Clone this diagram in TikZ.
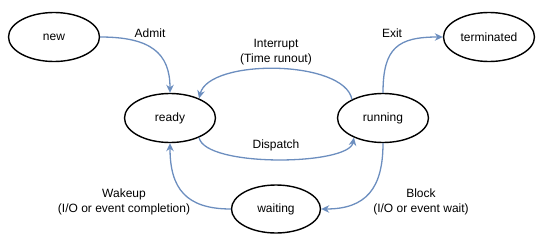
\documentclass[tikz,border=0pt]{standalone}
\usepackage{fontspec}
\setmainfont{Liberation Sans}
\usepackage{xcolor}
\usepackage{tikz}
\usetikzlibrary{shapes.geometric, arrows.meta}

\definecolor{edgeblue}{HTML}{6C8EBF}

\begin{document}
\begin{tikzpicture}[x=1pt, y=1pt,
    state/.style={ellipse, draw, line width=1.4pt, minimum width=91pt, minimum height=49pt, inner sep=0pt, font=\fontsize{12}{14.5}\selectfont},
    lbl/.style={align=center, inner sep=0pt, font=\fontsize{12}{14.5}\selectfont},
    trans/.style={draw=edgeblue, line width=1.3pt, -{Stealth[length=8pt, width=7.5pt, inset=2.5pt]}}]
        \useasboundingbox (0,0) rectangle (552,250);

        % process states
        \node[state] (new) at (54, 213) {new};
        \node[state] (ready) at (170, 132) {ready};
        \node[state] (running) at (383, 132) {running};
        \node[state] (terminated) at (489, 213) {terminated};
        \node[state, minimum width=89pt, minimum height=48pt] (waiting) at (276, 41) {waiting};

        % transitions
        \draw[trans] (new.east) .. controls +(50,0) and +(0,40) .. (ready.north);
        \draw[trans] (running.149) .. controls +(-8,40) and +(10,40) .. (ready.34);
        \draw[trans] (ready.-34) .. controls +(6,-30) and +(-5,-28) .. (running.-146);
        \draw[trans] (running.north) .. controls +(0,45) and +(-45,0) .. (terminated.west);
        \draw[trans] (running.south) .. controls +(0,-45) and +(45,0) .. (waiting.east);
        \draw[trans] (waiting.west) .. controls +(-45,0) and +(0,-45) .. (ready.south);

        % transition labels
        \node[lbl] (admit) at (150, 217) {Admit};
        \node[lbl] (interrupt) at (276, 198) {Interrupt\\(Time runout)};
        \node[lbl] (dispatch) at (276, 105) {Dispatch};
        \node[lbl] (exit) at (392, 217) {Exit};
        \node[lbl] (wakeup) at (124, 48) {Wakeup\\(I/O or event completion)};
        \node[lbl] (block) at (421, 48) {Block\\(I/O or event wait)};
\end{tikzpicture}
\end{document}
